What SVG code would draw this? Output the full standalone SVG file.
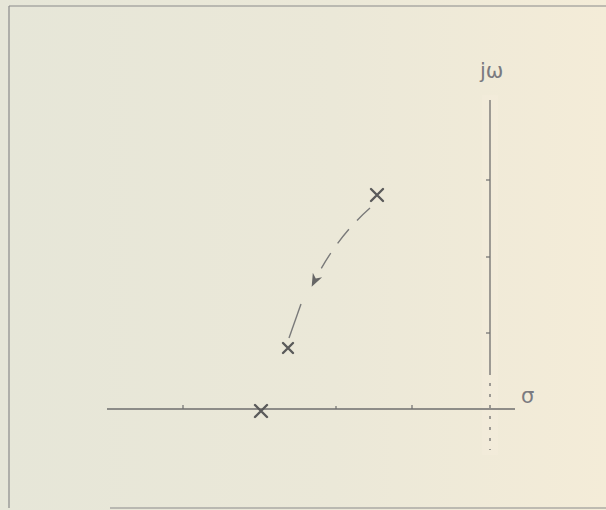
<svg xmlns="http://www.w3.org/2000/svg" width="606" height="510" viewBox="0 0 606 510">
<defs>
<linearGradient id="bg" x1="0" y1="0" x2="1" y2="0">
<stop offset="0" stop-color="#e6e6d8"/>
<stop offset="0.55" stop-color="#ebe8d8"/>
<stop offset="1" stop-color="#f4ecd8"/>
</linearGradient>
<marker id="arr" viewBox="0 0 10 10" refX="6" refY="5" markerWidth="13" markerHeight="13" orient="auto" markerUnits="userSpaceOnUse">
<path d="M0,1 L10,5 L0,9 L3,5 Z" fill="#666"/>
</marker>
</defs>
<style>
.ax{stroke:#6e6e6e;stroke-width:1.3;fill:none}
.tk{stroke:#6e6e6e;stroke-width:1.2}
.fr{stroke:#8a8a8a;stroke-width:1.2;fill:none}
.x{stroke:#5a5a5a;stroke-width:2.4;stroke-linecap:round}
.lbl{font-family:"DejaVu Sans",sans-serif;fill:#7a7a80;font-size:21px}
.c{stroke:#7a7a7a;stroke-width:1.4;fill:none}
</style>
<rect width="606" height="510" fill="url(#bg)"/>
<rect x="482" y="95" width="16" height="360" fill="#f5efe0" opacity="0.35"/>
<g id="frame">
<path class="fr" d="M9,6 H606 M9,6 V508 M110,508 H606"/>
</g>
<g id="axes">
<line class="ax" x1="107" y1="409" x2="515" y2="409"/>
<line class="ax" x1="490" y1="100" x2="490" y2="372"/>
<line class="ax" x1="490" y1="372" x2="490" y2="450" stroke-dasharray="3 8"/>
<line class="tk" x1="183" y1="405" x2="183" y2="409"/>
<line class="tk" x1="336" y1="406" x2="336" y2="409"/>
<line class="tk" x1="412" y1="405" x2="412" y2="409"/>
<line class="tk" x1="486" y1="180" x2="490" y2="180"/>
<line class="tk" x1="486" y1="257" x2="490" y2="257"/>
<line class="tk" x1="486" y1="333" x2="490" y2="333"/>
</g>
<g id="labels">
<text class="lbl" x="480" y="78">jω</text>
<text class="lbl" x="521" y="403">σ</text>
</g>
<g id="pole1">
<path class="x" d="M371,189 L383,201 M383,189 L371,201"/>
</g>
<g id="pole2">
<path class="x" d="M283,343 L293,353 M293,343 L283,353"/>
</g>
<g id="pole3">
<path class="x" d="M255,405 L267,417 M267,405 L255,417"/>
</g>
<g id="connectors">
<path class="c" d="M370,208 Q336,238 314,282" stroke-dasharray="18 12" marker-end="url(#arr)"/>
<path class="c" d="M301,304 L289,338"/>
</g>
</svg>
